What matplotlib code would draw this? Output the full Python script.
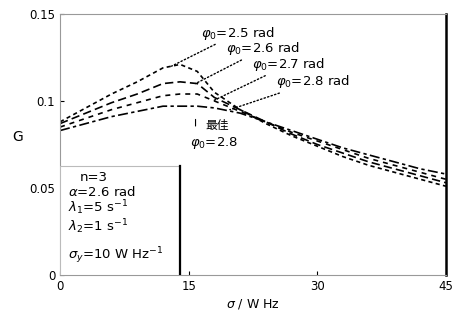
import numpy as np
import matplotlib
matplotlib.use("Agg")
import matplotlib.pyplot as plt
from matplotlib.patches import Rectangle

plt.rcParams["font.family"] = ["DejaVu Sans", "Noto Sans CJK SC"]
plt.rcParams["mathtext.fontset"] = "dejavusans"

# sampled curve values, G vs sigma
omega = [0, 3, 6, 9, 12, 14, 16, 18, 21, 24, 27, 30, 33, 36, 39, 42, 45]
g_25 = [0.088, 0.096, 0.104, 0.111, 0.119, 0.121, 0.117, 0.105, 0.095, 0.087, 0.080, 0.074, 0.068, 0.063, 0.059, 0.055, 0.051]
g_26 = [0.087, 0.093, 0.099, 0.104, 0.110, 0.111, 0.110, 0.102, 0.095, 0.088, 0.081, 0.075, 0.070, 0.065, 0.061, 0.057, 0.053]
g_27 = [0.085, 0.090, 0.095, 0.099, 0.103, 0.104, 0.104, 0.100, 0.094, 0.088, 0.082, 0.077, 0.072, 0.067, 0.063, 0.059, 0.055]
g_28 = [0.083, 0.087, 0.091, 0.094, 0.097, 0.097, 0.097, 0.096, 0.093, 0.088, 0.083, 0.078, 0.073, 0.069, 0.065, 0.061, 0.058]

curve_labels = [r"$\varphi_0$=2.5 rad", r"$\varphi_0$=2.6 rad",
                r"$\varphi_0$=2.7 rad", r"$\varphi_0$=2.8 rad"]
params = ["n=3", r"$\alpha$=2.6 rad", r"$\lambda_1$=5 s$^{-1}$",
          r"$\lambda_2$=1 s$^{-1}$", r"$\sigma_y$=10 W Hz$^{-1}$"]

fig = plt.figure(figsize=(4.55, 3.25), dpi=100)
ax = fig.add_axes([0.132, 0.154, 0.848, 0.803])

styles = [(0, (2.5, 2)), (0, (5, 2.5)), (0, (3, 3)), (0, (6, 2, 2, 2))]
for g, ls in zip([g_25, g_26, g_27, g_28], styles):
    ax.plot(omega, g, color="black", lw=1.2, linestyle=ls)

# leader lines from curves to their labels
leaders = [((13.0, 0.120), (16.4, 0.139)),
           ((15.8, 0.110), (19.4, 0.130)),
           ((17.8, 0.100), (22.4, 0.121)),
           ((19.8, 0.095), (25.2, 0.111))]
for (xy, xt), lab in zip(leaders, curve_labels):
    ax.annotate(lab, xy=xy, xytext=xt, fontsize=9.5, ha="left", va="center",
                arrowprops=dict(arrowstyle="-", linestyle=":", lw=1.0,
                                color="black", shrinkA=0, shrinkB=0))

ax.annotate("", xy=(15.8, 0.091), xytext=(15.8, 0.084),
            arrowprops=dict(arrowstyle="-", lw=0.8, color="black"))
ax.text(18.3, 0.086, "最佳", fontsize=8.5, ha="center", va="center",
        family=["Noto Sans CJK SC", "DejaVu Sans"])
ax.text(18.0, 0.076, r"$\varphi_0$=2.8", fontsize=9.5, ha="center", va="center")

# parameter box in lower-left corner
box = Rectangle((0, 0), 14.0, 0.0625, facecolor="white", edgecolor="#bbbbbb",
                lw=0.8, zorder=3)
ax.add_patch(box)
ax.plot([14.0, 14.0], [0, 0.0625], color="black", lw=1.6, zorder=4)
ys = [0.056, 0.0475, 0.0385, 0.028, 0.011]
xs = [2.3, 0.9, 0.9, 0.9, 0.9]
for x, y, t in zip(xs, ys, params):
    ax.text(x, y, t, fontsize=9.5, ha="left", va="center", zorder=5)

ax.set_xlim(0, 45)
ax.set_ylim(0, 0.15)
ax.set_xticks([0, 15, 30, 45])
ax.set_xticklabels(["0", "15", "30", "45"])
ax.set_yticks([0, 0.05, 0.1, 0.15])
ax.set_yticklabels(["0", "0.05", "0.1", "0.15"])
ax.tick_params(direction="in", labelsize=8.5, length=3)
ax.set_xlabel(r"$\sigma$ / W Hz", fontsize=9, labelpad=3)
ax.set_ylabel("G", fontsize=10, rotation=0, labelpad=8)

for s in ["left", "top", "bottom"]:
    ax.spines[s].set_color("#999999")
ax.spines["right"].set_color("black")
ax.spines["right"].set_linewidth(1.8)

fig.savefig("out.png", dpi=100)
